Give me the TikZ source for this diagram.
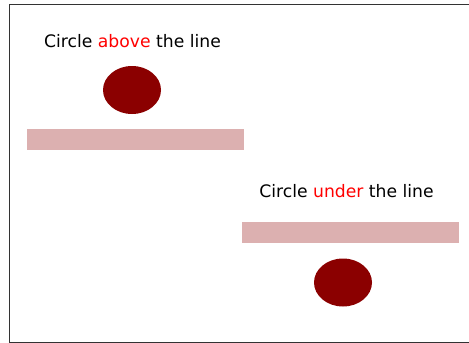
\documentclass[tikz,border=0pt]{standalone}
\usepackage{fontspec}
\setmainfont{DejaVu Sans}
\definecolor{dred}{HTML}{8B0000}
\definecolor{barcol}{HTML}{DCB0B0}
\begin{document}
\begin{tikzpicture}[x=1pt,y=-1pt,
  lbl/.style={font=\fontsize{17.2}{20}\selectfont, inner sep=0pt, anchor=base},
  dot/.style={fill=dred, draw=none},
  bar/.style={fill=barcol, draw=none}]
\useasboundingbox (0,0) rectangle (469,343);
\coordinate (tl) at (9,4.5);
\coordinate (tr) at (470,4.5);
\coordinate (bl) at (9,342);
\coordinate (br) at (470,342);
\draw[line width=1pt, black!80] (tr) -- (tl) -- (bl) -- (br);
\node[lbl] (t1) at (132.5,47) {Circle \textcolor{red}{above} the line};
\fill[dot] (132,90) ellipse [x radius=29, y radius=24];
\fill[bar] (27,129) rectangle (244,150);
\node[lbl] (t2) at (346.5,197) {Circle \textcolor{red}{under} the line};
\fill[bar] (242,222) rectangle (459,243);
\fill[dot] (343,282.5) ellipse [x radius=29, y radius=24];
\end{tikzpicture}
\end{document}
